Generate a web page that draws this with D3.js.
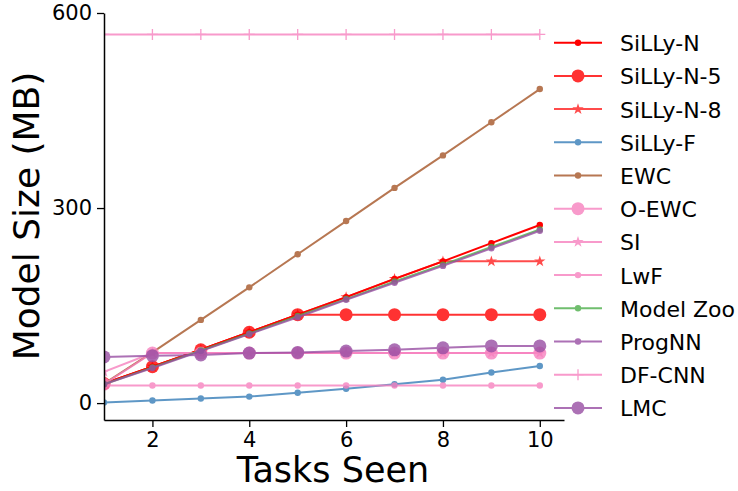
<!DOCTYPE html>
<html><head><meta charset="utf-8">
<script src="https://cdn.jsdelivr.net/npm/d3@7"></script>
<style>body{margin:0;background:#fff}svg{display:block}text{font-family:"DejaVu Sans",sans-serif}</style>
</head><body><svg id="c" width="738" height="491"></svg>
<script>
const tasks = [1,2,3,4,5,6,7,8,9,10];
const xTicks = [2,4,6,8,10];
const yTicks = [0,300,600];
const sillyN  = [30,56,82,109,136,163,191,218,246,274];
const sillyN5 = [30,56,82,109,136,136,136,136,136,136];
const sillyN8 = [30,56,82,109,136,163,191,218,218,218];
const sillyF  = [1,4,7,10,16,22,29,36,47,57];
const ewc     = [30,78,128,178,229,280,331,381,432,483];
const oewc    = [29,77,77,77,77,77,77,77,77,77];
const si      = [48,77,77,77,77,77,77,77,77,77];
const lwf     = [27,27,27,27,27,27,27,27,27,27];
const modelZoo= [29,55,81,107,134,160,187,213,240,267];
const progNN  = [29,54,80,106,132,159,185,211,238,265];
const dfcnn   = [567,567,567,567,567,567,567,567,567,567];
const lmc     = [71,73,74,77,78,80,82,85,88,88];

const series = [
 {name:"SiLLy-N", v:sillyN, c:"#ff0000", a:1, m:"dot"},
 {name:"SiLLy-N-5", v:sillyN5, c:"#ff0000", a:0.8, m:"big"},
 {name:"SiLLy-N-8", v:sillyN8, c:"#ff0000", a:0.7, m:"star"},
 {name:"SiLLy-F", v:sillyF, c:"#377eb8", a:0.8, m:"dot"},
 {name:"EWC", v:ewc, c:"#a65628", a:0.8, m:"dot"},
 {name:"O-EWC", v:oewc, c:"#f781bf", a:0.8, m:"big"},
 {name:"SI", v:si, c:"#f781bf", a:0.8, m:"star"},
 {name:"LwF", v:lwf, c:"#f781bf", a:0.8, m:"dot"},
 {name:"Model Zoo", v:modelZoo, c:"#4daf4a", a:0.8, m:"dot"},
 {name:"ProgNN", v:progNN, c:"#984ea3", a:0.8, m:"dot"},
 {name:"DF-CNN", v:dfcnn, c:"#f781bf", a:0.8, m:"plus"},
 {name:"LMC", v:lmc, c:"#984ea3", a:0.8, m:"big"}
];

const svg = d3.select("#c");
const L=104, R=564, T=13, B=420;
const x = d3.scaleLinear().domain([1,10.5]).range([L,R]);
const y = d3.scaleLinear().domain([-26,600]).range([B,T]);

svg.append("defs").append("clipPath").attr("id","pc").append("rect")
  .attr("x",L).attr("y",0).attr("width",R-L+10).attr("height",B);

function marker(g, m, cx, cy, col){
  if(m==="dot") g.append("circle").attr("cx",cx).attr("cy",cy).attr("r",3.2).attr("fill",col);
  else if(m==="big") g.append("circle").attr("cx",cx).attr("cy",cy).attr("r",6.5).attr("fill",col);
  else if(m==="star") g.append("path").attr("d",d3.symbol(d3.symbolStar, 40)()).attr("transform",`translate(${cx},${cy})`).attr("fill",col);
  else if(m==="plus") g.append("path").attr("d",`M${cx-5.5},${cy}H${cx+5.5}M${cx},${cy-5.5}V${cy+5.5}`).attr("stroke",col).attr("stroke-width",1.3);
}

const plot = svg.append("g").attr("clip-path","url(#pc)");
const line = d3.line().x((d,i)=>x(tasks[i])).y(d=>y(d));
series.forEach(s=>{
  const g = plot.append("g").attr("opacity",s.a);
  g.append("path").attr("d",line(s.v)).attr("fill","none").attr("stroke",s.c).attr("stroke-width",2);
  s.v.forEach((d,i)=>marker(g,s.m,x(tasks[i]),y(d),s.c));
});

// axes
const xa = svg.append("g").attr("transform",`translate(0,${B})`)
  .call(d3.axisBottom(x).tickValues(xTicks).tickSize(7).tickPadding(5).tickSizeOuter(0));
const ya = svg.append("g").attr("transform",`translate(${L},0)`)
  .call(d3.axisLeft(y).tickValues(yTicks).tickSize(7).tickPadding(5).tickSizeOuter(0));
[xa,ya].forEach(a=>{
  a.select(".domain").attr("stroke","#000").attr("stroke-width",1.5);
  a.selectAll(".tick line").attr("stroke","#000").attr("stroke-width",1.3);
  a.selectAll(".tick text").attr("font-size",21).attr("fill","#000").attr("font-family","DejaVu Sans");
});

svg.append("text").attr("x",333).attr("y",482).attr("text-anchor","middle").attr("font-size",35).text("Tasks Seen");
svg.append("text").attr("transform","translate(39,216) rotate(-90)").attr("text-anchor","middle").attr("font-size",36).text("Model Size (MB)");

// legend
const lg = svg.append("g");
series.forEach((s,i)=>{
  const cy = 42.7 + i*33.2;
  const g = lg.append("g").attr("opacity",s.a);
  g.append("line").attr("x1",554).attr("x2",602).attr("y1",cy).attr("y2",cy).attr("stroke",s.c).attr("stroke-width",2);
  marker(g,s.m,578,cy,s.c);
  lg.append("text").attr("x",620).attr("y",cy+8.5).attr("font-size",22).attr("fill","#000").text(s.name);
});
</script></body></html>
